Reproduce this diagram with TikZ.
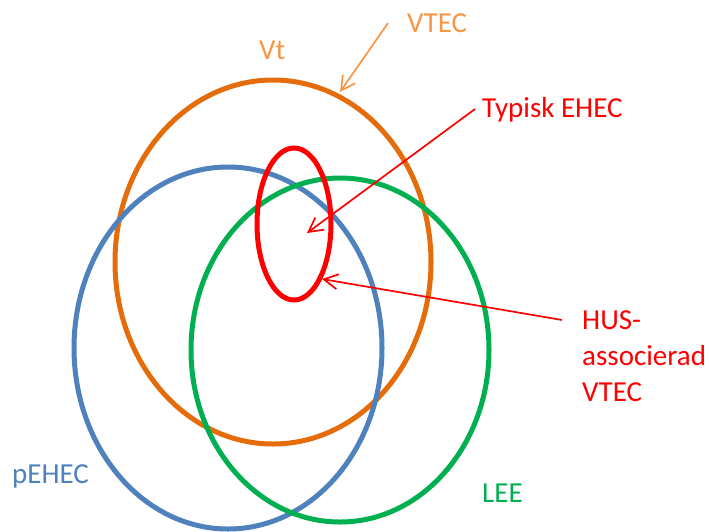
\documentclass[tikz,border=0pt]{standalone}
\usepackage{fontspec}
\setmainfont{Carlito}
\usetikzlibrary{arrows.meta}
\definecolor{vtorange}{HTML}{E46C0A}
\definecolor{lightorange}{HTML}{F79646}
\definecolor{pblue}{HTML}{4F81BD}
\definecolor{lgreen}{HTML}{00B050}
\definecolor{hred}{HTML}{FF0000}
\tikzset{
  ring/.style={line width=5pt},
  lbl/.style={inner sep=0pt, font=\fontsize{29}{36}\selectfont},
  pointer/.style={line width=1.7pt, -{Straight Barb[length=14pt,width=15pt]}}
}
\begin{document}
\begin{tikzpicture}[x=1pt,y=-1pt]
\useasboundingbox (0,0) rectangle (709,531);
% ellipses
\coordinate (cvt) at (273,262);
\coordinate (cpe) at (228,348);
\coordinate (cle) at (340,350);
\coordinate (cty) at (294,224);
\draw[ring, vtorange] (cvt) ellipse [x radius=158, y radius=182];
\draw[ring, pblue] (cpe) ellipse [x radius=154, y radius=181];
\draw[ring, lgreen] (cle) ellipse [x radius=149, y radius=172];
\draw[ring, hred] (cty) ellipse [x radius=37, y radius=76];
% labels
\node[lbl, text=lightorange, anchor=base west] (vt) at (259,59) {Vt};
\node[lbl, text=lightorange, anchor=base west] (vtec) at (407,32) {VTEC};
\node[lbl, text=hred, anchor=base west] (typ) at (482,117) {Typisk EHEC};
\node[lbl, text=hred, anchor=north west, align=left] (hus) at (582,310) {HUS-\\associerad\\VTEC};
\node[lbl, text=pblue, anchor=base west] (pe) at (12,483) {pEHEC};
\node[lbl, text=lgreen, anchor=base west] (lee) at (482,502) {LEE};
% pointers
\coordinate (vtecS) at (388,23);
\coordinate (vtecE) at (340,92);
\coordinate (typS) at (475,109);
\coordinate (typE) at (307,233);
\coordinate (husS) at (562,320);
\coordinate (husE) at (322,279);
\draw[pointer, lightorange] (vtecS) -- (vtecE);
\draw[pointer, hred] (typS) -- (typE);
\draw[pointer, hred] (husS) -- (husE);
\end{tikzpicture}
\end{document}
